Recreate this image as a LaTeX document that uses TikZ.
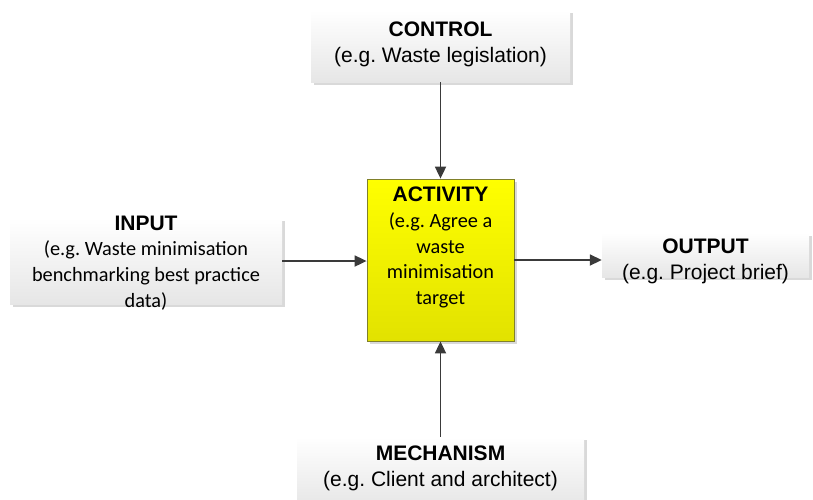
\documentclass[tikz,border=0pt]{standalone}
\usepackage{fontspec}
\setmainfont{Liberation Sans}
\newfontfamily\calib{Carlito}
\usetikzlibrary{shadows,arrows.meta}
\definecolor{arrowc}{HTML}{3A3A3A}
\definecolor{boxtop}{HTML}{FFFFFF}
\definecolor{boxbot}{HTML}{E6E6E6}
\definecolor{shadc}{HTML}{D9D9D9}
\definecolor{ytop}{HTML}{FFFF00}
\definecolor{ybot}{HTML}{E2E200}
\definecolor{yborder}{HTML}{80802A}
\tikzset{
  greybox/.style={inner sep=0pt, top color=boxtop, bottom color=boxbot, draw=none,
    drop shadow={shadow xshift=3pt, shadow yshift=-3pt, fill=shadc, opacity=1}},
  actbox/.style={inner sep=0pt, top color=ytop, bottom color=ybot, draw=yborder, line width=0.8pt,
    drop shadow={shadow xshift=3pt, shadow yshift=-3pt, fill=shadc, opacity=1}},
  lbl/.style={align=center, font=\frenchspacing\fontsize{21}{25.7}\selectfont, inner sep=0pt},
  clbl/.style={align=center, font=\frenchspacing\fontsize{20.3}{25.7}\selectfont, inner sep=0pt},
  conn/.style={draw=arrowc, line width=1.8pt, -{Triangle[length=12pt,width=11pt]}}
}
\begin{document}
\begin{tikzpicture}[x=1pt,y=-1pt]
\useasboundingbox (0,0) rectangle (813,499);
% boxes
\node[greybox, minimum width=259pt, minimum height=72pt] (ctrl) at (440.5,46) {};
\node[greybox, minimum width=272pt, minimum height=86pt] (inp) at (146,261) {};
\node[greybox, minimum width=207pt, minimum height=44pt] (outp) at (705.5,255) {};
\node[greybox, minimum width=287pt, minimum height=70pt] (mech) at (440.5,472) {};
\node[actbox, minimum width=147pt, minimum height=162pt] (act) at (440.5,260) {};
% texts
\node[lbl] (ctrlt) at (440.5,44) {\textbf{CONTROL}\\(e.g. Waste legislation)};
\node[clbl] (inpt) at (146,263) {{\fontsize{21}{25.7}\selectfont\textbf{INPUT}}\\{\calib (e.g. Waste minimisation}\\{\calib benchmarking best practice}\\{\calib data)}};
\node[lbl] (outpt) at (705.5,261) {\textbf{OUTPUT}\\(e.g. Project brief)};
\node[lbl] (mecht) at (440.5,468) {\textbf{MECHANISM}\\(e.g. Client and architect)};
\node[clbl, anchor=north] (actt) at (440.5,187) {{\fontsize{21}{25.7}\selectfont\textbf{ACTIVITY}}\\{\calib (e.g. Agree a}\\{\calib waste}\\{\calib minimisation}\\{\calib target}};
% connectors
\draw[conn] (ctrl.south) -- (act.north);
\draw[conn] (inp.east) -- (inp.east -| act.west);
\draw[conn] (act.east) -- (act.east -| outp.west);
\draw[conn] (mech.north) -- (act.south);
\end{tikzpicture}
\end{document}
